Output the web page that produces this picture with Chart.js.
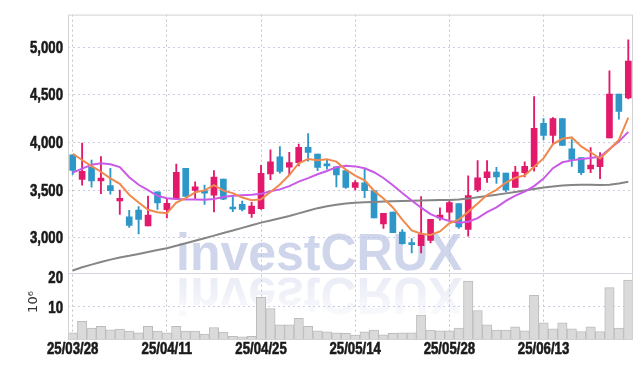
<!DOCTYPE html>
<html lang="en">
<head>
<meta charset="UTF-8">
<title>investCRUX - daily chart</title>
<script src="https://cdn.jsdelivr.net/npm/chart.js"></script>
<style>
  body { margin: 0; background: #fff; }
  #wrap { width: 642px; height: 366px; }
</style>
</head>
<body>
<div id="wrap"><canvas id="stockChart" width="642" height="366"></canvas></div>
<script>
// trading days (YY/MM/DD)
const dates = [
  '25/03/28','25/03/31','25/04/01','25/04/02','25/04/03','25/04/04','25/04/07','25/04/08','25/04/09','25/04/10',
  '25/04/11','25/04/14','25/04/15','25/04/16','25/04/17','25/04/18','25/04/21','25/04/22','25/04/23','25/04/24',
  '25/04/25','25/04/28','25/04/29','25/04/30','25/05/02','25/05/07','25/05/08','25/05/09','25/05/12','25/05/13',
  '25/05/14','25/05/15','25/05/16','25/05/19','25/05/20','25/05/21','25/05/22','25/05/23','25/05/26','25/05/27',
  '25/05/28','25/05/29','25/05/30','25/06/02','25/06/04','25/06/05','25/06/09','25/06/10','25/06/11','25/06/12',
  '25/06/13','25/06/16','25/06/17','25/06/18','25/06/19','25/06/20','25/06/23','25/06/24','25/06/25','25/06/26'
];

const opens = [
  3868,3612,3738,3595,3548,3385,3218,3289,3123,3480,
  3293,3408,3728,3497,3493,3446,3615,3311,3351,3253,
  3304,3669,3848,3740,3787,3949,3878,3764,3743,3703,
  3527,3576,3493,3145,3269,3059,2945,2917,2972,3207,
  3269,3359,3086,3500,3631,3688,3678,3528,3681,3746,
  4199,4073,4250,3933,3841,3722,3746,4046,4506,4465
];
const highs = [
  3871,3993,3813,3850,3728,3500,3286,3327,3436,3480,
  3412,3772,3728,3585,3551,3703,3615,3432,3385,3372,
  3760,3922,3956,3895,3983,4091,3878,3811,3743,3703,
  3600,3717,3493,3255,3269,3086,2990,3431,3193,3314,
  3393,3359,3648,3810,3810,3739,3678,3749,3797,4479,
  4250,4260,4250,4029,3841,3944,3892,4751,4506,5075
];
const lows = [
  3664,3551,3531,3463,3456,3245,3109,3041,3123,3296,
  3208,3398,3432,3412,3350,3270,3399,3274,3280,3213,
  3297,3608,3676,3659,3753,3804,3703,3720,3534,3517,
  3500,3421,3207,3097,3052,2931,2841,2841,2945,3183,
  3190,3097,3017,3483,3579,3569,3480,3528,3637,3698,
  4029,3978,3967,3749,3661,3681,3620,4046,4243,4455
];
const closes = [
  3706,3697,3595,3626,3493,3412,3130,3191,3238,3364,
  3361,3687,3432,3534,3466,3635,3405,3301,3297,3331,
  3676,3797,3696,3787,3949,3895,3736,3753,3659,3527,
  3578,3493,3207,3255,3052,2938,2928,3034,3193,3238,
  3369,3114,3441,3628,3690,3637,3500,3688,3749,4148,
  4073,4250,3967,3821,3681,3763,3852,4506,4325,4853
];

// volume, millions of shares
const volumes = [
  1.9,5.4,3.3,3.9,2.8,3.0,2.4,1.9,3.9,2.4,
  1.9,3.9,2.4,2.4,1.5,3.5,2.1,0.8,0.7,0.8,
  12.7,9.3,4.3,4.3,6.3,3.9,2.5,2.2,1.9,1.7,
  1.2,2.2,2.7,1.3,1.7,1.9,1.9,7.3,2.7,2.5,
  2.5,3.3,17.7,8.7,4.3,2.7,2.7,3.7,2.5,13.3,
  4.9,3.1,4.9,3.1,2.3,3.7,2.3,15.7,3.3,18.0
];

// moving averages
const ma5 = [
  3881,3815,3750,3692,3623,3565,3451,3370,3293,3267,
  3257,3368,3416,3476,3496,3551,3494,3468,3421,3394,
  3402,3480,3559,3657,3781,3825,3813,3824,3798,3714,
  3651,3602,3493,3412,3317,3189,3076,3041,3029,3066,
  3152,3190,3271,3358,3448,3502,3579,3629,3653,3744,
  3832,3982,4037,4052,3958,3896,3830,3925,4025,4260
];
const ma20 = [
  3682,3725,3765,3780,3770,3740,3635,3555,3500,3440,
  3415,3405,3402,3400,3398,3405,3426,3439,3446,3450,
  3460,3487,3507,3541,3588,3625,3665,3700,3740,3755,
  3748,3728,3687,3626,3551,3468,3390,3315,3248,3205,
  3175,3158,3168,3205,3268,3319,3387,3442,3483,3541,
  3620,3729,3791,3811,3825,3835,3850,3930,4010,4110
];
const ma60 = [
  2656,2690,2718,2745,2770,2793,2810,2830,2850,2870,
  2890,2915,2942,2968,2995,3022,3050,3075,3103,3130,
  3158,3180,3205,3228,3255,3282,3310,3330,3345,3358,
  3367,3371,3375,3379,3382,3385,3388,3390,3393,3395,
  3396,3400,3410,3425,3438,3450,3465,3480,3495,3512,
  3527,3538,3547,3552,3555,3555,3553,3555,3568,3586
];

const priceTicks = [3000, 3500, 4000, 4500, 5000];
const volTicks = [10, 20];

const UP = '#e3196b';
const DOWN = '#2f97c8';
const candleColors = closes.map((c, i) => c >= opens[i] ? UP : DOWN);

const tickFont = { family: "'Liberation Sans', Arial, sans-serif", size: 16, weight: 'bold' };
const LABEL_FONT = "bold 16.5px 'Liberation Sans', Arial, sans-serif";
const SQUEEZE = 0.8;   // the original axis font is a narrow face

// draws a label squeezed horizontally, anchored at (x, y)
function narrowText(ctx, text, x, y, align) {
  ctx.save();
  ctx.translate(x, y);
  ctx.scale(SQUEEZE, 1);
  ctx.textAlign = align;
  ctx.textBaseline = 'middle';
  ctx.fillText(text, 0, 0);
  ctx.strokeText(text, 0, 0);
  ctx.restore();
}

// watermark, frame, narrow axis labels and the 10^6 unit label
const extras = {
  id: 'extras',
  beforeDatasetsDraw(chart) {
    const ctx = chart.ctx;
    const a = chart.chartArea;
    ctx.save();
    ctx.beginPath();
    ctx.rect(a.left, a.top, a.width, a.height);
    ctx.clip();
    ctx.font = "bold 52px 'Liberation Sans', Arial, sans-serif";
    const w = ctx.measureText('investCRUX').width;
    ctx.translate(176, 270);
    ctx.scale(286 / w, 1);
    ctx.textBaseline = 'alphabetic';
    ctx.fillStyle = 'rgba(184,194,226,0.68)';
    ctx.fillText('investCRUX', 0, 0);
    ctx.translate(0, 8);
    ctx.scale(1, -1);
    const g = ctx.createLinearGradient(0, 0, 0, -40);
    g.addColorStop(0, 'rgba(205,210,234,0.42)');
    g.addColorStop(1, 'rgba(205,210,234,0.1)');
    ctx.fillStyle = g;
    ctx.fillText('investCRUX', 0, 0);
    ctx.restore();
  },
  afterDraw(chart) {
    const ctx = chart.ctx;
    const a = chart.chartArea;
    ctx.save();
    ctx.strokeStyle = '#d2d2d2';
    ctx.lineWidth = 1;
    ctx.strokeRect(a.left + 0.5, a.top + 0.5, a.width - 1, a.height);
    const yv = chart.scales.yv;
    ctx.strokeStyle = '#d6d6e2';
    ctx.beginPath();
    ctx.moveTo(a.left, Math.round(yv.top) + 0.5);
    ctx.lineTo(a.right, Math.round(yv.top) + 0.5);
    ctx.stroke();

    ctx.fillStyle = '#1a1a1a';
    ctx.strokeStyle = '#1a1a1a';
    ctx.lineWidth = 0.6;
    ctx.font = LABEL_FONT;
    const y = chart.scales.y;
    y.ticks.forEach(t => {
      narrowText(ctx, t.label, a.left - 5, y.getPixelForValue(t.value) + 1, 'right');
    });
    yv.ticks.forEach(t => {
      const py = Math.max(yv.getPixelForValue(t.value) + 2, yv.top + 4.5);
      narrowText(ctx, t.label, a.left - 5, py, 'right');
    });
    const x = chart.scales.x;
    x.ticks.forEach((t, i) => {
      const lbl = x.getLabelForValue(t.value);
      if (i % 10 === 0) narrowText(ctx, lbl, x.getPixelForTick(i), a.bottom + 10, 'center');
    });

    ctx.translate(34, 302);
    ctx.rotate(-Math.PI / 2);
    ctx.fillStyle = '#333';
    ctx.textAlign = 'center';
    ctx.textBaseline = 'middle';
    ctx.font = "13px 'DejaVu Sans', sans-serif";
    ctx.fillText('10⁶', 0, 0);
    ctx.restore();
  }
};

const hidden = 'rgba(0,0,0,0)';

const ctx = document.getElementById('stockChart').getContext('2d');
const chart = new Chart(ctx, {
  type: 'bar',
  data: {
    labels: dates,
    datasets: [
      {
        type: 'line', label: 'MA5', data: ma5, yAxisID: 'y', order: 0,
        borderColor: '#ef8a4f', borderWidth: 2, pointRadius: 0, tension: 0
      },
      {
        type: 'line', label: 'MA20', data: ma20, yAxisID: 'y', order: 1,
        borderColor: '#c95ae8', borderWidth: 2, pointRadius: 0, tension: 0
      },
      {
        type: 'line', label: 'MA60', data: ma60, yAxisID: 'y', order: 2,
        borderColor: '#858585', borderWidth: 2, pointRadius: 0, tension: 0
      },
      {
        label: 'body', data: opens.map((o, i) => [o, closes[i]]), yAxisID: 'y', order: 3,
        backgroundColor: candleColors, barThickness: 6, minBarLength: 2, grouped: false
      },
      {
        label: 'wick', data: lows.map((l, i) => [l, highs[i]]), yAxisID: 'y', order: 4,
        backgroundColor: candleColors, barThickness: 1.2, grouped: false
      },
      {
        label: 'volume', data: volumes, yAxisID: 'yv', order: 5,
        backgroundColor: '#dadada', borderColor: '#bcbcbc', borderWidth: 1,
        barPercentage: 1, categoryPercentage: 1, grouped: false
      }
    ]
  },
  options: {
    responsive: false,
    animation: false,
    layout: { padding: { top: 9, right: 9, left: 0, bottom: 0 } },
    plugins: { legend: { display: false }, tooltip: { enabled: false } },
    scales: {
      x: {
        offset: true,
        afterFit: s => { s.height = 27; },
        grid: {
          offset: false, drawTicks: false,
          color: c => (c.index % 10 === 0 ? '#c4c4c4' : hidden)
        },
        border: { display: false, dash: [2, 3] },
        ticks: {
          autoSkip: false, maxRotation: 0, padding: 3, color: hidden, font: tickFont,
          callback: (v, i) => (i % 10 === 0 ? dates[i] : '')
        }
      },
      yv: {
        position: 'left', stack: 'panels', stackWeight: 1,
        min: 0, max: 20,
        afterFit: s => { s.width = 68; },
        afterBuildTicks: s => { s.ticks = volTicks.map(v => ({ value: v })); },
        grid: { drawTicks: false, color: '#cbcbe6' },
        border: { display: false, dash: [2, 3] },
        ticks: { padding: 5, color: hidden, font: tickFont }
      },
      y: {
        position: 'left', stack: 'panels', stackWeight: 3.95,
        min: 2625, max: 5340,
        afterFit: s => { s.width = 68; },
        afterBuildTicks: s => { s.ticks = priceTicks.map(v => ({ value: v })); },
        grid: { drawTicks: false, color: '#cbcbe6' },
        border: { display: false, dash: [2, 3] },
        ticks: {
          padding: 5, color: hidden, font: tickFont,
          callback: v => v.toLocaleString('en-US')
        }
      }
    }
  },
  plugins: [extras]
});
</script>
</body>
</html>
